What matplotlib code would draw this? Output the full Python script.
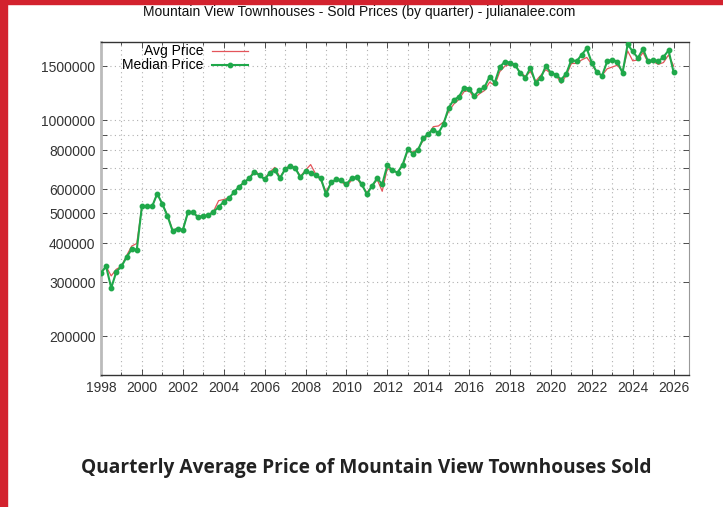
import numpy as np
import matplotlib
matplotlib.use("Agg")
import matplotlib.pyplot as plt
from matplotlib.patches import Rectangle
from matplotlib.ticker import FixedLocator, MultipleLocator, NullFormatter

# quarterly sold prices, 1998 Q1 .. 2026 Q1 (one row per year)
median_price = [
    321000, 337000, 287000, 324000,      # 1998
    337000, 361000, 383000, 382000,      # 1999
    527000, 527000, 527000, 580000,      # 2000
    536000, 491000, 439000, 447000,      # 2001
    442000, 504000, 504000, 486000,      # 2002
    491000, 493000, 506000, 525000,      # 2003
    545000, 560000, 585000, 610000,      # 2004
    630000, 650000, 680000, 665000,      # 2005
    645000, 675000, 690000, 650000,      # 2006
    695000, 710000, 700000, 655000,      # 2007
    685000, 675000, 665000, 650000,      # 2008
    577000, 630000, 645000, 640000,      # 2009
    622000, 650000, 656000, 622000,      # 2010
    577000, 614000, 649000, 622000,      # 2011
    716000, 690000, 678000, 720000,      # 2012
    806000, 781000, 802000, 875000,      # 2013
    906000, 935000, 910000, 975000,      # 2014
    1100000, 1166000, 1192000, 1278000,  # 2015
    1268000, 1201000, 1255000, 1280000,  # 2016
    1387000, 1325000, 1490000, 1551000,  # 2017
    1536000, 1514000, 1422000, 1375000,  # 2018
    1484000, 1324000, 1370000, 1502000,  # 2019
    1425000, 1405000, 1357000, 1418000,  # 2020
    1573000, 1553000, 1632000, 1711000,  # 2021
    1535000, 1431000, 1397000, 1553000,  # 2022
    1573000, 1549000, 1425000, 1763000,  # 2023
    1673000, 1593000, 1706000, 1553000,  # 2024
    1573000, 1553000, 1605000, 1686000,  # 2025
    1431000,                             # 2026
]

avg_price = [
    321000, 337000, 314000, 330000,
    337000, 365000, 392000, 400000,
    527000, 527000, 527000, 578000,
    536000, 495000, 442000, 447000,
    442000, 504000, 504000, 488000,
    491000, 495000, 508000, 550000,
    555000, 562000, 585000, 612000,
    632000, 652000, 688000, 668000,
    648000, 680000, 705000, 655000,
    695000, 718000, 702000, 660000,
    690000, 720000, 670000, 640000,
    590000, 625000, 642000, 635000,
    612000, 640000, 652000, 615000,
    585000, 610000, 645000, 590000,
    700000, 685000, 680000, 712000,
    800000, 790000, 810000, 860000,
    900000, 955000, 960000, 990000,
    1070000, 1130000, 1170000, 1240000,
    1250000, 1180000, 1220000, 1250000,
    1330000, 1300000, 1440000, 1500000,
    1520000, 1500000, 1430000, 1390000,
    1440000, 1340000, 1400000, 1460000,
    1420000, 1400000, 1320000, 1400000,
    1530000, 1530000, 1570000, 1600000,
    1520000, 1430000, 1400000, 1470000,
    1490000, 1510000, 1440000, 1680000,
    1560000, 1570000, 1660000, 1540000,
    1550000, 1520000, 1540000, 1630000,
    1500000,
]

first_year = 1998
year_ticks = list(range(1998, 2027, 2))
price_ticks = [200000, 300000, 400000, 500000, 600000, 700000, 800000,
               900000, 1000000, 1500000]
price_labels = ["200000", "300000", "400000", "500000", "600000", "",
                "800000", "", "1000000", "1500000"]

quarter = first_year + 0.25 * np.arange(len(median_price))

plt.rcParams['font.family'] = ['Liberation Sans', 'DejaVu Sans']

fig = plt.figure(figsize=(7.23, 5.07), dpi=100)
ax = fig.add_axes([101 / 723, 1 - 375 / 507, 588 / 723, 333 / 507])

ax.plot(quarter, avg_price, color='#e4545a', lw=0.9, label='Avg Price', zorder=3)
ax.plot(quarter, median_price, color='#1fa84a', lw=1.5, marker='o', ms=3.2,
        label='Median Price', zorder=4)

ax.set_yscale('log')
ax.set_xlim(1998, 2026.75)
ax.set_ylim(150000, 1795000)

ax.xaxis.set_major_locator(FixedLocator(year_ticks))
ax.xaxis.set_minor_locator(MultipleLocator(1))
ax.set_xticklabels([str(y) for y in year_ticks])
ax.yaxis.set_major_locator(FixedLocator(price_ticks))
ax.yaxis.set_minor_locator(FixedLocator([]))
ax.yaxis.set_minor_formatter(NullFormatter())
ax.set_yticklabels(price_labels)

ax.tick_params(which='both', direction='in', top=True, right=True,
               labelsize=10, colors='#333333', pad=4)
ax.tick_params(which='major', length=4, width=0.6)
ax.tick_params(which='minor', length=2, width=0.6)

ax.grid(True, which='both', axis='x', color='#b0b0b0', ls=(0, (1, 3)), lw=0.8)
ax.grid(True, which='major', axis='y', color='#b0b0b0', ls=(0, (1, 3)), lw=0.8)
ax.set_axisbelow(True)

ax.spines['left'].set_color('#bbbbbb')
ax.spines['left'].set_linewidth(2)
ax.spines['right'].set_color('#999999')
for side in ['top', 'bottom']:
    ax.spines[side].set_color('#333333')
    ax.spines[side].set_linewidth(1)

ax.legend(loc='upper left', bbox_to_anchor=(0.02, 1.022), frameon=False,
          markerfirst=False, fontsize=10, handlelength=2.6,
          labelspacing=0.0, borderpad=0.2, handletextpad=0.6)

fig.text(0.497, 1 - 12 / 507, 'Mountain View Townhouses - Sold Prices (by quarter) - julianalee.com',
         ha='center', va='center', fontsize=10, color='#111111')

fig.text(0.507, 1 - 468 / 507, 'Quarterly Average Price of Mountain View Townhouses Sold',
         ha='center', va='center', fontsize=13.8, fontweight='bold',
         family=['Open Sans', 'DejaVu Sans'], color='#222222')

# red frame strips of the page
fig.patches.append(Rectangle((0, 0), 7 / 723, 1, transform=fig.transFigure,
                             color='#d3222e', zorder=10))
fig.patches.append(Rectangle((0, 1 - 4 / 507), 1, 4 / 507, transform=fig.transFigure,
                             color='#d3222e', zorder=10))

fig.savefig('out.png', dpi=100)
